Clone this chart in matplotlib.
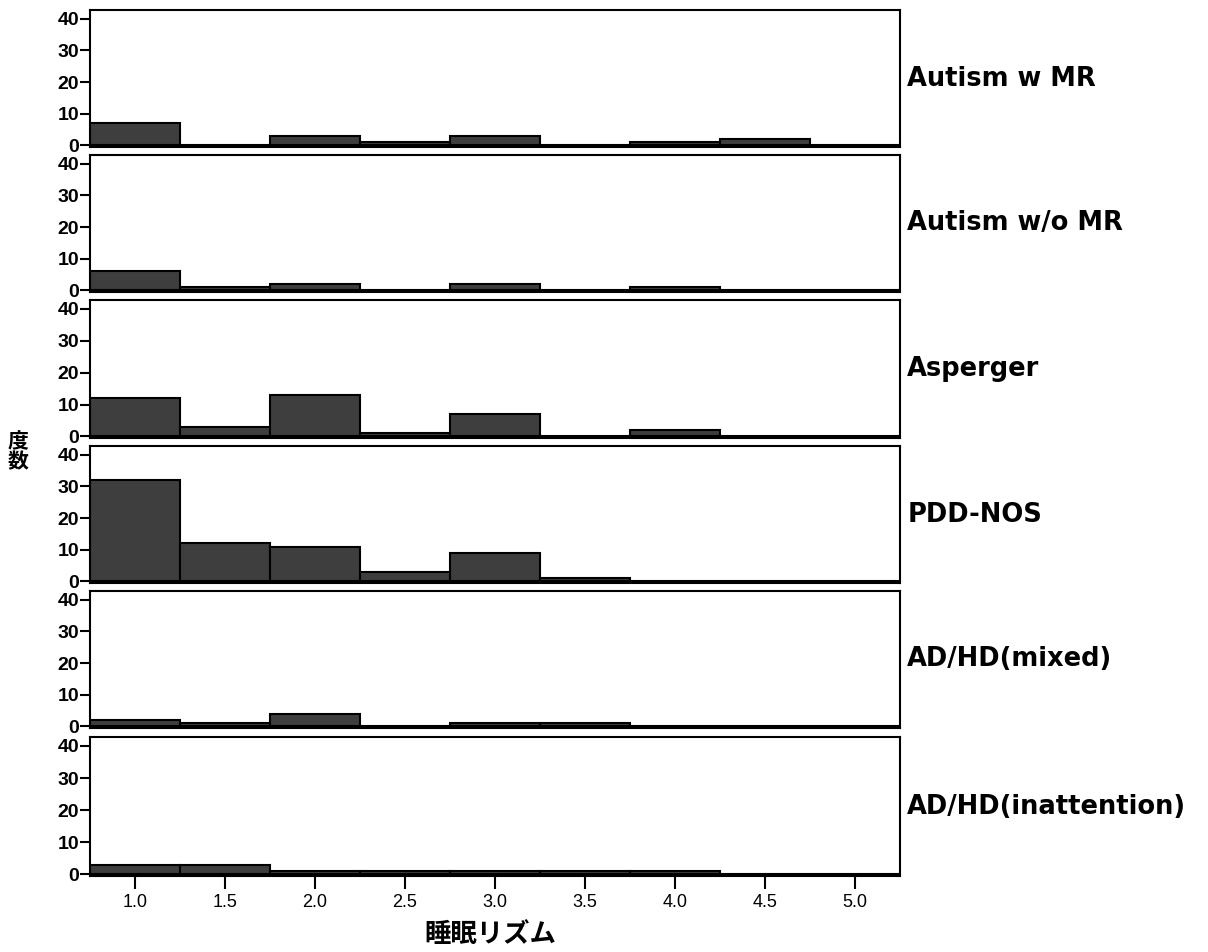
import matplotlib
matplotlib.use('Agg')
import matplotlib.pyplot as plt

plt.rcParams['font.family'] = ['Liberation Sans', 'DejaVu Sans']

groups = ['Autism w MR', 'Autism w/o MR', 'Asperger', 'PDD-NOS',
          'AD/HD(mixed)', 'AD/HD(inattention)']
bins = [1.0, 1.5, 2.0, 2.5, 3.0, 3.5, 4.0, 4.5, 5.0]
counts = [
    [7, 0, 3, 1, 3, 0, 1, 2, 0],
    [6, 1, 2, 0, 2, 0, 1, 0, 0],
    [12, 3, 13, 1, 7, 0, 2, 0, 0],
    [32, 12, 11, 3, 9, 1, 0, 0, 0],
    [2, 1, 4, 0, 1, 1, 0, 0, 0],
    [3, 3, 1, 1, 1, 1, 1, 0, 0],
]
yticks = [0, 10, 20, 30, 40]
xticks = [1.0, 1.5, 2.0, 2.5, 3.0, 3.5, 4.0, 4.5, 5.0]

W, H = 1208, 952
fig = plt.figure(figsize=(W / 100, H / 100), dpi=100)

# panel top/bottom edges in pixels
edges = [(10, 147), (155, 292), (300, 438), (446, 583), (591, 728), (737, 876)]
left, right = 90, 900

for i, (name, c) in enumerate(zip(groups, counts)):
    top, bot = edges[i]
    ax = fig.add_axes([left / W, 1 - bot / H, (right - left) / W, (bot - top) / H])
    ax.bar(bins, c, width=0.5, color='#3e3e3e', edgecolor='black', linewidth=1.5)
    ax.set_xlim(0.75, 5.25)
    ax.set_ylim(-0.5, 42.8)
    ax.set_yticks(yticks)
    ax.set_yticklabels([str(t) for t in yticks], fontsize=14, fontweight='bold')
    ax.tick_params(axis='y', length=7, width=1.5, pad=1)
    for s in ax.spines.values():
        s.set_linewidth(1.5)
    if i < len(groups) - 1:
        ax.set_xticks([])
    else:
        ax.set_xticks(xticks)
        ax.set_xticklabels([f'{t:.1f}' for t in xticks], fontsize=13)
        ax.tick_params(axis='x', length=9, width=1.5, pad=4)
    ax.text(1.009, 0.5, name, transform=ax.transAxes, fontsize=18.5,
            fontweight='bold', family=['DejaVu Sans'],
            ha='left', va='center')

fig.text(18 / W, 1 - 452 / H, '度\n数', fontsize=15, fontweight='bold',
         family=['Noto Sans CJK JP'], ha='center', va='center', linespacing=0.95)
fig.text(490 / W, 1 - 934 / H, '睡眠リズム', fontsize=19, fontweight='bold',
         family=['Noto Sans CJK JP'], ha='center', va='center')

fig.savefig('out.png', dpi=100)
